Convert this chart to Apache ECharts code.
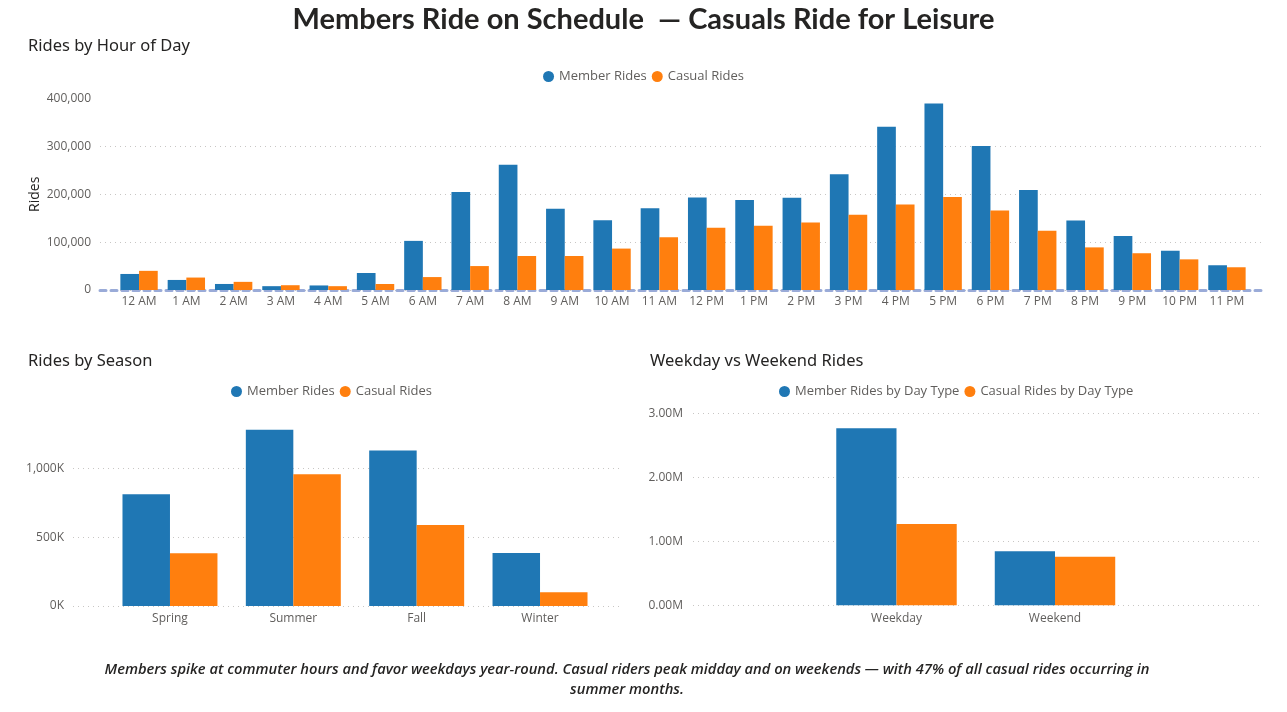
<!DOCTYPE html>
<html>
<head>
<meta charset="utf-8">
<script src="https://cdn.jsdelivr.net/npm/echarts@6/dist/echarts.min.js"></script>
<style>
  html, body { margin: 0; padding: 0; background: #fff; }
  #chart { width: 1287px; height: 712px; }
</style>
</head>
<body>
<div id="chart"></div>
<script>
var hours = ['12 AM','1 AM','2 AM','3 AM','4 AM','5 AM','6 AM','7 AM','8 AM','9 AM','10 AM','11 AM',
             '12 PM','1 PM','2 PM','3 PM','4 PM','5 PM','6 PM','7 PM','8 PM','9 PM','10 PM','11 PM'];
var memberByHour = [33500, 21000, 12600, 8000, 9500, 35500, 102600, 204600, 261800, 169600, 145600, 171000,
                    193000, 188000, 192700, 242000, 341000, 389500, 300800, 208700, 145000, 113000, 82000, 51700];
var casualByHour = [40000, 26000, 17000, 10000, 8000, 12500, 27000, 50000, 71000, 71000, 86500, 110000,
                    130000, 134000, 141000, 157000, 178700, 194000, 166000, 123600, 89000, 76800, 64000, 47500];

var seasons = ['Spring', 'Summer', 'Fall', 'Winter'];
var memberBySeason = [812000, 1281000, 1131000, 385000];
var casualBySeason = [383000, 957000, 589000, 99600];

var dayTypes = ['Weekday', 'Weekend'];
var memberByDay = [2766000, 844000];
var casualByDay = [1270000, 760000];

var blue = '#1F77B4';
var orange = '#FF7F0E';
var labelColor = '#605E5C';
var font = '"Open Sans", "Noto Sans", sans-serif';
var headFont = '"Noto Sans", sans-serif';

var myChart = echarts.init(document.getElementById('chart'));

function splitDots() {
  return { show: true, lineStyle: { color: '#C8C6C4', type: [1, 4], width: 1 }, showMaxLine: false };
}

function hiddenAxis(grid, type, extra) {
  var a = { gridIndex: grid, type: type, show: false };
  return Object.assign(a, extra || {});
}

var legendText = { color: labelColor, fontSize: 13, fontFamily: font };
var subTitle = { fontSize: 16.5, fontWeight: 'normal', color: '#252423', fontFamily: headFont };

var option = {
  animation: false,
  color: [blue, orange],
  title: [
    {
      text: 'Members Ride on Schedule  \u2014 Casuals Ride for Leisure',
      left: 'center', top: 0,
      textStyle: { fontSize: 29, fontWeight: 'bold', color: '#252423', fontFamily: '"Lato", sans-serif' }
    },
    { text: 'Rides by Hour of Day', left: 23, top: 33, textStyle: subTitle },
    { text: 'Rides by Season', left: 23, top: 348, textStyle: subTitle },
    { text: 'Weekday vs Weekend Rides', left: 645, top: 348, textStyle: subTitle }
  ],
  graphic: [{
    type: 'text',
    x: 627,
    y: 660,
    style: {
      text: 'Members spike at commuter hours and favor weekdays year-round. Casual riders peak midday and on weekends \u2014 with 47% of all casual rides occurring in\nsummer months.',
      font: 'italic 600 14.7px "Open Sans", sans-serif',
      fill: '#252423',
      textAlign: 'center',
      lineHeight: 20
    }
  }],
  legend: [
    {
      data: ['Member Rides', 'Casual Rides'],
      left: 'center', top: 65, icon: 'circle', itemWidth: 11, itemHeight: 11, itemGap: 5,
      textStyle: legendText
    },
    {
      data: ['Member Rides ', 'Casual Rides '],
      formatter: function (n) { return n.trim(); },
      left: 226, top: 380, icon: 'circle', itemWidth: 11, itemHeight: 11, itemGap: 5,
      textStyle: legendText
    },
    {
      data: ['Member Rides by Day Type', 'Casual Rides by Day Type'],
      left: 774, top: 380, icon: 'circle', itemWidth: 11, itemHeight: 11, itemGap: 5,
      textStyle: legendText
    }
  ],
  grid: [
    { left: 100, right: 24, top: 98.5, bottom: 422 },
    { left: 115.4, right: 36.4, top: 98.5, bottom: 422 },
    { left: 73, right: 667, top: 413.4, bottom: 106 },
    { left: 108.3, right: 685.3, top: 413.4, bottom: 106 },
    { left: 693, right: 24, top: 413.3, bottom: 106.7 },
    { left: 817.25, right: 152.75, top: 413.3, bottom: 106.7 }
  ],
  xAxis: [
    {
      gridIndex: 0, type: 'value', min: 0, max: 1,
      axisLine: { show: true, lineStyle: { color: '#9AABD8', type: [6, 5], width: 3 } },
      axisTick: { show: false }, axisLabel: { show: false }, splitLine: { show: false }
    },
    {
      gridIndex: 1, type: 'category', data: hours,
      axisLine: { show: false }, axisTick: { show: false },
      axisLabel: { color: labelColor, fontSize: 12, fontFamily: font, margin: 6, interval: 0 }
    },
    hiddenAxis(2, 'value', { min: 0, max: 1 }),
    {
      gridIndex: 3, type: 'category', data: seasons,
      axisLine: { show: false }, axisTick: { show: false },
      axisLabel: { color: labelColor, fontSize: 12, fontFamily: font, margin: 7 }
    },
    hiddenAxis(4, 'value', { min: 0, max: 1 }),
    {
      gridIndex: 5, type: 'category', data: dayTypes,
      axisLine: { show: false }, axisTick: { show: false },
      axisLabel: { color: labelColor, fontSize: 12, fontFamily: font, margin: 7 }
    }
  ],
  yAxis: [
    {
      gridIndex: 0, type: 'value', min: 0, max: 400000, interval: 100000,
      name: 'Rides', nameLocation: 'middle', nameGap: 58, nameMoveOverlap: false,
      nameTextStyle: { color: '#252423', fontSize: 14, fontFamily: font },
      axisLine: { show: false }, axisTick: { show: false },
      axisLabel: { color: labelColor, fontSize: 12, fontFamily: font, margin: 9,
        formatter: function (v) { return v.toLocaleString('en-US'); } },
      splitLine: splitDots()
    },
    hiddenAxis(1, 'value', { min: 0, max: 400000 }),
    {
      gridIndex: 2, type: 'value', min: 0, max: 1400000, interval: 500000,
      axisLine: { show: false }, axisTick: { show: false },
      axisLabel: { color: labelColor, fontSize: 12, fontFamily: font, margin: 9, showMaxLabel: false,
        formatter: function (v) { return (v / 1000).toLocaleString('en-US') + 'K'; } },
      splitLine: splitDots()
    },
    hiddenAxis(3, 'value', { min: 0, max: 1400000 }),
    {
      gridIndex: 4, type: 'value', min: 0, max: 3000000, interval: 1000000,
      axisLine: { show: false }, axisTick: { show: false },
      axisLabel: { color: labelColor, fontSize: 12, fontFamily: font, margin: 10,
        formatter: function (v) { return (v / 1000000).toFixed(2) + 'M'; } },
      splitLine: { show: true, lineStyle: { color: '#C8C6C4', type: [1, 4], width: 1 } }
    },
    hiddenAxis(5, 'value', { min: 0, max: 3000000 })
  ],
  series: [
    { name: 'Member Rides', type: 'bar', xAxisIndex: 1, yAxisIndex: 1, data: memberByHour,
      barGap: 0, barCategoryGap: '21%', itemStyle: { color: blue } },
    { name: 'Casual Rides', type: 'bar', xAxisIndex: 1, yAxisIndex: 1, data: casualByHour,
      itemStyle: { color: orange } },
    { name: 'Member Rides ', type: 'bar', xAxisIndex: 3, yAxisIndex: 3, data: memberBySeason,
      barGap: 0, barCategoryGap: '23%', itemStyle: { color: blue } },
    { name: 'Casual Rides ', type: 'bar', xAxisIndex: 3, yAxisIndex: 3, data: casualBySeason,
      itemStyle: { color: orange } },
    { name: 'Member Rides by Day Type', type: 'bar', xAxisIndex: 5, yAxisIndex: 5, data: memberByDay,
      barGap: 0, barCategoryGap: '24%', itemStyle: { color: blue } },
    { name: 'Casual Rides by Day Type', type: 'bar', xAxisIndex: 5, yAxisIndex: 5, data: casualByDay,
      itemStyle: { color: orange } }
  ]
};

myChart.setOption(option);
</script>
</body>
</html>
